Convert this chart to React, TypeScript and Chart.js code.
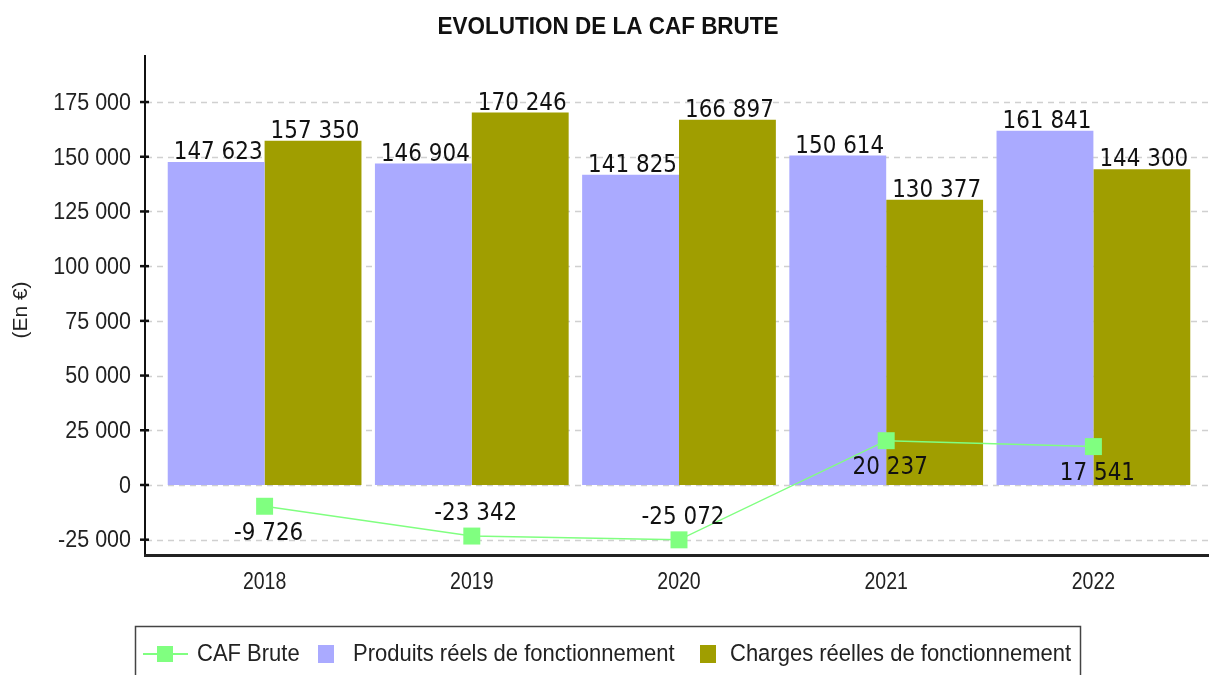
import React, { useEffect, useRef } from "react";
import { Chart, registerables } from "chart.js";

Chart.register(...registerables);

const CATEGORIES = ["2018", "2019", "2020", "2021", "2022"];
const CAF_BRUTE = [-9726, -23342, -25072, 20237, 17541];
const PRODUITS = [147623, 146904, 141825, 150614, 161841];
const CHARGES = [157350, 170246, 166897, 130377, 144300];
const Y_TICKS = [-25000, 0, 25000, 50000, 75000, 100000, 125000, 150000, 175000];

const TITLE = "EVOLUTION DE LA CAF BRUTE";
const Y_TITLE = "(En €)";
const SERIES_NAMES = ["CAF Brute", "Produits réels de fonctionnement", "Charges réelles de fonctionnement"];

const GREEN = "#80FF80";
const BLUE = "#AAAAFF";
const OLIVE = "#A09E00";

function fmt(n: number): string {
  const s = Math.abs(Math.round(n)).toString();
  const parts: string[] = [];
  for (let i = s.length; i > 0; i -= 3) parts.unshift(s.substring(Math.max(0, i - 3), i));
  return (n < 0 ? "-" : "") + parts.join(" ");
}

const SANS = '"Liberation Sans", Arial, sans-serif';
const DEJAVU = '"DejaVu Sans", sans-serif';

function txt(ctx: CanvasRenderingContext2D, s: string, x: number, y: number, sy: number) {
  ctx.save();
  ctx.translate(x, y);
  ctx.scale(1, sy);
  ctx.fillText(s, 0, 0);
  ctx.restore();
}

const decorPlugin = {
  id: "decor",
  beforeDatasetsDraw(chart: any) {
    const ctx = chart.ctx;
    const y = chart.scales.y;
    ctx.save();
    ctx.strokeStyle = "#d0d0d0";
    ctx.lineWidth = 1.5;
    ctx.setLineDash([6, 5]);
    for (const t of Y_TICKS) {
      const py = Math.round(y.getPixelForValue(t)) + 0.5;
      ctx.beginPath();
      ctx.moveTo(146, py);
      ctx.lineTo(1209, py);
      ctx.stroke();
    }
    ctx.restore();
  },
  afterDatasetsDraw(chart: any) {
    const ctx = chart.ctx as CanvasRenderingContext2D;
    const xs = chart.scales.x;
    const ys = chart.scales.y;
    const area = chart.chartArea;
    ctx.save();

    // axes
    ctx.strokeStyle = "#111";
    ctx.lineWidth = 2;
    ctx.beginPath();
    ctx.moveTo(145, area.top);
    ctx.lineTo(145, area.bottom);
    ctx.stroke();
    ctx.lineWidth = 3;
    ctx.strokeStyle = "#222";
    ctx.beginPath();
    ctx.moveTo(144, area.bottom + 0.5);
    ctx.lineTo(1209, area.bottom + 0.5);
    ctx.stroke();

    // y ticks + labels
    ctx.lineWidth = 2.5;
    ctx.strokeStyle = "#111";
    ctx.fillStyle = "#222";
    ctx.font = `21.5px ${SANS}`;
    ctx.textAlign = "right";
    ctx.textBaseline = "middle";
    for (const t of Y_TICKS) {
      const py = ys.getPixelForValue(t);
      ctx.beginPath();
      ctx.moveTo(140, py);
      ctx.lineTo(149, py);
      ctx.stroke();
      txt(ctx, fmt(t), 131, py + 1, 1.15);
    }

    // x labels
    ctx.font = `19.5px ${SANS}`;
    ctx.textAlign = "center";
    CATEGORIES.forEach((c, i) => {
      txt(ctx, c, xs.getPixelForValue(i), 582, 1.25);
    });

    // title
    ctx.font = `bold 22.5px ${SANS}`;
    ctx.fillStyle = "#111";
    txt(ctx, TITLE, 608, 27, 1.08);

    // y title
    ctx.save();
    ctx.translate(21, 310);
    ctx.rotate(-Math.PI / 2);
    ctx.font = `21px ${SANS}`;
    ctx.fillStyle = "#222";
    ctx.fillText(Y_TITLE, 0, 0);
    ctx.restore();

    // bar labels
    ctx.font = `21.5px ${DEJAVU}`;
    ctx.fillStyle = "#111";
    ctx.textAlign = "center";
    ctx.textBaseline = "middle";
    [1, 2].forEach((di) => {
      const meta = chart.getDatasetMeta(di);
      const data = chart.data.datasets[di].data as number[];
      meta.data.forEach((el: any, i: number) => {
        txt(ctx, fmt(data[i]), el.x + 2, el.y - 9, 1.12);
      });
    });

    // line labels
    const lm = chart.getDatasetMeta(0);
    const ld = chart.data.datasets[0].data as number[];
    lm.data.forEach((el: any, i: number) => {
      let ty = el.y + 27;
      if (ty + 10 > area.bottom) ty = el.y - 22;
      txt(ctx, fmt(ld[i]), el.x + 4, ty, 1.12);
    });

    // legend
    ctx.strokeStyle = "#444";
    ctx.lineWidth = 1.5;
    ctx.strokeRect(135.5, 626.5, 945, 70);
    const ly = 654;
    ctx.strokeStyle = GREEN;
    ctx.lineWidth = 2;
    ctx.beginPath();
    ctx.moveTo(143, ly);
    ctx.lineTo(188, ly);
    ctx.stroke();
    ctx.fillStyle = GREEN;
    ctx.fillRect(157, ly - 8, 16, 16);
    ctx.fillStyle = BLUE;
    ctx.fillRect(318, ly - 9, 16, 18);
    ctx.fillStyle = OLIVE;
    ctx.fillRect(700, ly - 9, 16, 18);
    ctx.fillStyle = "#222";
    ctx.font = `22px ${SANS}`;
    ctx.textAlign = "left";
    txt(ctx, SERIES_NAMES[0], 197, ly, 1.08);
    txt(ctx, SERIES_NAMES[1], 353, ly, 1.08);
    txt(ctx, SERIES_NAMES[2], 730, ly, 1.08);

    ctx.restore();
  },
};

export default function App() {
  const ref = useRef<HTMLCanvasElement | null>(null);
  useEffect(() => {
    if (!ref.current) return;
    const chart = new Chart(ref.current, {
      type: "bar",
      data: {
        labels: CATEGORIES,
        datasets: [
          {
            type: "line",
            label: SERIES_NAMES[0],
            data: CAF_BRUTE,
            borderColor: GREEN,
            borderWidth: 1.5,
            backgroundColor: GREEN,
            pointStyle: "rect",
            pointRadius: 12,
            pointBackgroundColor: GREEN,
            pointBorderColor: GREEN,
            pointBorderWidth: 0,
            tension: 0,
            order: 0,
          } as any,
          {
            type: "bar",
            label: SERIES_NAMES[1],
            data: PRODUITS,
            backgroundColor: BLUE,
            borderWidth: 0,
            barPercentage: 1,
            categoryPercentage: 0.935,
            order: 1,
          },
          {
            type: "bar",
            label: SERIES_NAMES[2],
            data: CHARGES,
            backgroundColor: OLIVE,
            borderWidth: 0,
            barPercentage: 1,
            categoryPercentage: 0.935,
            order: 2,
          },
        ],
      },
      options: {
        responsive: false,
        animation: false,
        devicePixelRatio: 1,
        layout: { padding: { left: 161, right: 8, top: 55, bottom: 120 } },
        scales: {
          x: { display: false, offset: true },
          y: { display: false, min: -32000, max: 196500 },
        },
        plugins: {
          legend: { display: false },
          title: { display: false },
          tooltip: { enabled: false },
        },
      },
      plugins: [decorPlugin],
    });
    return () => chart.destroy();
  }, []);
  return (
    <div style={{ position: "absolute", left: 0, top: 0, width: 1209, height: 675, background: "#fff" }}>
      <canvas ref={ref} width={1209} height={675} style={{ width: 1209, height: 675, display: "block" }} />
    </div>
  );
}
